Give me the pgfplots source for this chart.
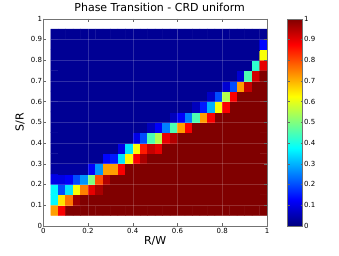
\documentclass[border=0pt]{standalone}
\usepackage{fontspec}
\setmainfont{DejaVu Sans}
\usepackage{pgfplots}
\usepackage{pgfplotstable}
\pgfplotsset{compat=1.18}
\pgfplotstableread[row sep=\\]{
j i c\\
1 1 0.72\\2 1 0.88\\3 1 1\\4 1 1\\5 1 1\\6 1 1\\7 1 1\\8 1 1\\9 1 1\\10 1 1\\11 1 1\\12 1 1\\13 1 1\\14 1 1\\15 1 1\\16 1 1\\17 1 1\\18 1 1\\19 1 1\\20 1 1\\21 1 1\\22 1 1\\23 1 1\\24 1 1\\25 1 1\\26 1 1\\27 1 1\\28 1 1\\29 1 1\\
1 2 0.37\\2 2 0.65\\3 2 0.76\\4 2 0.97\\5 2 1\\6 2 1\\7 2 1\\8 2 1\\9 2 1\\10 2 1\\11 2 1\\12 2 1\\13 2 1\\14 2 1\\15 2 1\\16 2 1\\17 2 1\\18 2 1\\19 2 1\\20 2 1\\21 2 1\\22 2 1\\23 2 1\\24 2 1\\25 2 1\\26 2 1\\27 2 1\\28 2 1\\29 2 1\\
1 3 0.37\\2 3 0.2\\3 3 0.35\\4 3 0.62\\5 3 0.75\\6 3 0.9\\7 3 0.96\\8 3 1\\9 3 1\\10 3 1\\11 3 1\\12 3 1\\13 3 1\\14 3 1\\15 3 1\\16 3 1\\17 3 1\\18 3 1\\19 3 1\\20 3 1\\21 3 1\\22 3 1\\23 3 1\\24 3 1\\25 3 1\\26 3 1\\27 3 1\\28 3 1\\29 3 1\\
1 4 0.1\\2 4 0.1\\3 4 0.12\\4 4 0.2\\5 4 0.27\\6 4 0.5\\7 4 0.8\\8 4 0.95\\9 4 1\\10 4 1\\11 4 1\\12 4 1\\13 4 1\\14 4 1\\15 4 1\\16 4 1\\17 4 1\\18 4 1\\19 4 1\\20 4 1\\21 4 1\\22 4 1\\23 4 1\\24 4 1\\25 4 1\\26 4 1\\27 4 1\\28 4 1\\29 4 1\\
1 5 0.03\\2 5 0.03\\3 5 0.03\\4 5 0.03\\5 5 0.03\\6 5 0.12\\7 5 0.27\\8 5 0.72\\9 5 0.72\\10 5 0.88\\11 5 1\\12 5 1\\13 5 1\\14 5 1\\15 5 1\\16 5 1\\17 5 1\\18 5 1\\19 5 1\\20 5 1\\21 5 1\\22 5 1\\23 5 1\\24 5 1\\25 5 1\\26 5 1\\27 5 1\\28 5 1\\29 5 1\\
1 6 0.02\\2 6 0.02\\3 6 0.02\\4 6 0.02\\5 6 0.02\\6 6 0.02\\7 6 0.02\\8 6 0.13\\9 6 0.15\\10 6 0.35\\11 6 0.63\\12 6 0.88\\13 6 0.96\\14 6 1\\15 6 1\\16 6 1\\17 6 1\\18 6 1\\19 6 1\\20 6 1\\21 6 1\\22 6 1\\23 6 1\\24 6 1\\25 6 1\\26 6 1\\27 6 1\\28 6 1\\29 6 1\\
1 7 0.02\\2 7 0.02\\3 7 0.02\\4 7 0.02\\5 7 0.02\\6 7 0.02\\7 7 0.02\\8 7 0.02\\9 7 0.02\\10 7 0.1\\11 7 0.35\\12 7 0.62\\13 7 0.85\\14 7 0.93\\15 7 0.9\\16 7 1\\17 7 1\\18 7 1\\19 7 1\\20 7 1\\21 7 1\\22 7 1\\23 7 1\\24 7 1\\25 7 1\\26 7 1\\27 7 1\\28 7 1\\29 7 1\\
1 8 0.02\\2 8 0.02\\3 8 0.02\\4 8 0.02\\5 8 0.02\\6 8 0.02\\7 8 0.02\\8 8 0.02\\9 8 0.02\\10 8 0.02\\11 8 0.02\\12 8 0.1\\13 8 0.2\\14 8 0.45\\15 8 0.55\\16 8 0.9\\17 8 0.95\\18 8 1\\19 8 1\\20 8 1\\21 8 1\\22 8 1\\23 8 1\\24 8 1\\25 8 1\\26 8 1\\27 8 1\\28 8 1\\29 8 1\\
1 9 0.02\\2 9 0.02\\3 9 0.02\\4 9 0.02\\5 9 0.02\\6 9 0.02\\7 9 0.02\\8 9 0.02\\9 9 0.02\\10 9 0.02\\11 9 0.02\\12 9 0.02\\13 9 0.02\\14 9 0.06\\15 9 0.12\\16 9 0.25\\17 9 0.45\\18 9 0.72\\19 9 0.88\\20 9 1\\21 9 1\\22 9 1\\23 9 1\\24 9 1\\25 9 1\\26 9 1\\27 9 1\\28 9 1\\29 9 1\\
1 10 0.02\\2 10 0.02\\3 10 0.02\\4 10 0.02\\5 10 0.02\\6 10 0.02\\7 10 0.02\\8 10 0.02\\9 10 0.02\\10 10 0.02\\11 10 0.02\\12 10 0.02\\13 10 0.02\\14 10 0.02\\15 10 0.02\\16 10 0.02\\17 10 0.06\\18 10 0.12\\19 10 0.25\\20 10 0.45\\21 10 0.72\\22 10 0.88\\23 10 1\\24 10 1\\25 10 1\\26 10 1\\27 10 1\\28 10 1\\29 10 1\\
1 11 0.02\\2 11 0.02\\3 11 0.02\\4 11 0.02\\5 11 0.02\\6 11 0.02\\7 11 0.02\\8 11 0.02\\9 11 0.02\\10 11 0.02\\11 11 0.02\\12 11 0.02\\13 11 0.02\\14 11 0.02\\15 11 0.02\\16 11 0.02\\17 11 0.02\\18 11 0.02\\19 11 0.02\\20 11 0.06\\21 11 0.15\\22 11 0.3\\23 11 0.62\\24 11 0.88\\25 11 1\\26 11 1\\27 11 1\\28 11 1\\29 11 1\\
1 12 0.02\\2 12 0.02\\3 12 0.02\\4 12 0.02\\5 12 0.02\\6 12 0.02\\7 12 0.02\\8 12 0.02\\9 12 0.02\\10 12 0.02\\11 12 0.02\\12 12 0.02\\13 12 0.02\\14 12 0.02\\15 12 0.02\\16 12 0.02\\17 12 0.02\\18 12 0.02\\19 12 0.02\\20 12 0.02\\21 12 0.02\\22 12 0.07\\23 12 0.2\\24 12 0.55\\25 12 0.88\\26 12 1\\27 12 1\\28 12 1\\29 12 1\\
1 13 0.02\\2 13 0.02\\3 13 0.02\\4 13 0.02\\5 13 0.02\\6 13 0.02\\7 13 0.02\\8 13 0.02\\9 13 0.02\\10 13 0.02\\11 13 0.02\\12 13 0.02\\13 13 0.02\\14 13 0.02\\15 13 0.02\\16 13 0.02\\17 13 0.02\\18 13 0.02\\19 13 0.02\\20 13 0.02\\21 13 0.02\\22 13 0.02\\23 13 0.02\\24 13 0.08\\25 13 0.2\\26 13 0.72\\27 13 0.93\\28 13 1\\29 13 1\\
1 14 0.02\\2 14 0.02\\3 14 0.02\\4 14 0.02\\5 14 0.02\\6 14 0.02\\7 14 0.02\\8 14 0.02\\9 14 0.02\\10 14 0.02\\11 14 0.02\\12 14 0.02\\13 14 0.02\\14 14 0.02\\15 14 0.02\\16 14 0.02\\17 14 0.02\\18 14 0.02\\19 14 0.02\\20 14 0.02\\21 14 0.02\\22 14 0.02\\23 14 0.02\\24 14 0.02\\25 14 0.02\\26 14 0.08\\27 14 0.45\\28 14 0.92\\29 14 1\\
1 15 0.02\\2 15 0.02\\3 15 0.02\\4 15 0.02\\5 15 0.02\\6 15 0.02\\7 15 0.02\\8 15 0.02\\9 15 0.02\\10 15 0.02\\11 15 0.02\\12 15 0.02\\13 15 0.02\\14 15 0.02\\15 15 0.02\\16 15 0.02\\17 15 0.02\\18 15 0.02\\19 15 0.02\\20 15 0.02\\21 15 0.02\\22 15 0.02\\23 15 0.02\\24 15 0.02\\25 15 0.02\\26 15 0.02\\27 15 0.02\\28 15 0.42\\29 15 0.9\\
1 16 0.02\\2 16 0.02\\3 16 0.02\\4 16 0.02\\5 16 0.02\\6 16 0.02\\7 16 0.02\\8 16 0.02\\9 16 0.02\\10 16 0.02\\11 16 0.02\\12 16 0.02\\13 16 0.02\\14 16 0.02\\15 16 0.02\\16 16 0.02\\17 16 0.02\\18 16 0.02\\19 16 0.02\\20 16 0.02\\21 16 0.02\\22 16 0.02\\23 16 0.02\\24 16 0.02\\25 16 0.02\\26 16 0.02\\27 16 0.02\\28 16 0.02\\29 16 0.62\\
1 17 0.02\\2 17 0.02\\3 17 0.02\\4 17 0.02\\5 17 0.02\\6 17 0.02\\7 17 0.02\\8 17 0.02\\9 17 0.02\\10 17 0.02\\11 17 0.02\\12 17 0.02\\13 17 0.02\\14 17 0.02\\15 17 0.02\\16 17 0.02\\17 17 0.02\\18 17 0.02\\19 17 0.02\\20 17 0.02\\21 17 0.02\\22 17 0.02\\23 17 0.02\\24 17 0.02\\25 17 0.02\\26 17 0.02\\27 17 0.02\\28 17 0.02\\29 17 0.13\\
1 18 0.02\\2 18 0.02\\3 18 0.02\\4 18 0.02\\5 18 0.02\\6 18 0.02\\7 18 0.02\\8 18 0.02\\9 18 0.02\\10 18 0.02\\11 18 0.02\\12 18 0.02\\13 18 0.02\\14 18 0.02\\15 18 0.02\\16 18 0.02\\17 18 0.02\\18 18 0.02\\19 18 0.02\\20 18 0.02\\21 18 0.02\\22 18 0.02\\23 18 0.02\\24 18 0.02\\25 18 0.02\\26 18 0.02\\27 18 0.02\\28 18 0.02\\29 18 0.02\\
}\phasedata
\begin{document}
\begin{tikzpicture}[x=1pt,y=1pt]
\path[use as bounding box] (0,0) rectangle (339,255);
\begin{axis}[
  at={(43.3pt,29.3pt)}, anchor=south west,
  width=223.7pt, height=207pt, scale only axis,
  xmin=0, xmax=1, ymin=0, ymax=1,
  xtick={0,0.2,0.4,0.6,0.8,1},
  ytick={0,0.1,0.2,0.3,0.4,0.5,0.6,0.7,0.8,0.9,1},
  tick align=inside, major tick length=3pt,
  tick style={black!60},
  axis line style={black!55},
  tick label style={font=\fontsize{7}{8}\selectfont},
  /pgf/number format/assume math mode=true,
  xticklabel style={inner sep=1pt, yshift=-1.5pt},
  yticklabel style={inner sep=1pt},
  grid=major, grid style={white, opacity=0.18, line width=0.5pt},
  axis on top,
  colormap/jet, point meta min=0, point meta max=1,
  colorbar,
  colorbar style={
    at={(parent axis.north east)}, anchor=north west, xshift=12pt,
    width=15pt,
    ytick={0,0.1,0.2,0.3,0.4,0.5,0.6,0.7,0.8,0.9,1},
    yticklabel style={font=\fontsize{7}{8}\selectfont, inner sep=1.5pt},
    /pgf/number format/assume math mode=true,
    axis line style={black!55}, tick style={black!60},
    major tick length=2pt,
  },
  title={Phase Transition - CRD uniform},
  title style={at={(axis description cs:0.52,1)}, anchor=south, inner sep=0pt, yshift=1.3pt, font=\fontsize{11}{13}\selectfont},
  xlabel={R/W},
  xlabel style={at={(axis description cs:0.5,-0.053)}, anchor=north, inner sep=0pt, font=\fontsize{11}{13}\selectfont},
  ylabel={S/R},
  ylabel style={at={(axis description cs:-0.082,0.5)}, anchor=south, inner sep=0pt, rotate=0, font=\fontsize{11}{13}\selectfont},
]
\addplot[matrix plot*, mesh/cols=29, mesh/rows=18, point meta=explicit]
  table[x expr={\thisrow{j}/30+1/60}, y expr={\thisrow{i}*0.05+0.025}, meta=c] {\phasedata};
\end{axis}
\end{tikzpicture}
\end{document}
